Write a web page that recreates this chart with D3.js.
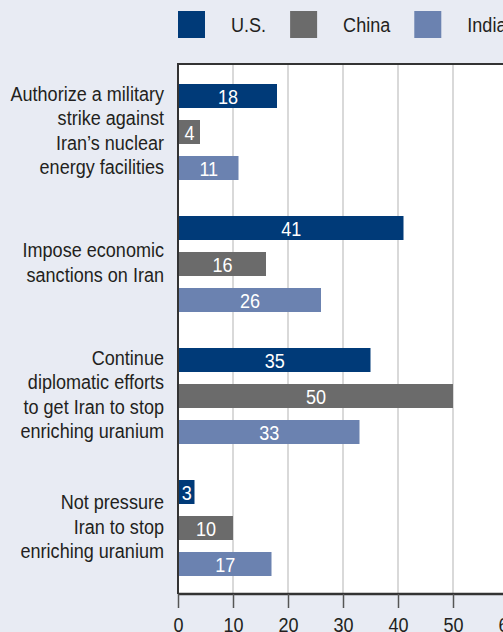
<!DOCTYPE html>
<html>
<head>
<meta charset="utf-8">
<script src="https://cdn.jsdelivr.net/npm/d3@7"></script>
<style>
  html, body { margin: 0; padding: 0; background: #e8ebf3; }
  svg { display: block; }
  text { font-family: "Liberation Sans", Arial, Helvetica, sans-serif; fill: #231f20; }
</style>
</head>
<body>
<svg width="503" height="632"></svg>
<script>
// chart data
var series = ["U.S.", "China", "India"];
var categories = [
    ["Authorize a military", "strike against", "Iran\u2019s nuclear", "energy facilities"],
    ["Impose economic", "sanctions on Iran"],
    ["Continue", "diplomatic efforts", "to get Iran to stop", "enriching uranium"],
    ["Not pressure", "Iran to stop", "enriching uranium"]
];
var usValues = [18, 41, 35, 3];
var chinaValues = [4, 16, 50, 10];
var indiaValues = [11, 26, 33, 17];
var xTicks = [0, 10, 20, 30, 40, 50, 60];

var colors = { "U.S.": "#003a78", "China": "#6b6b6b", "India": "#6b82b0" };

// no condensed font installed, so squeeze regular text horizontally
var squeeze = 0.86;
var fontSize = "21px";

var svg = d3.select("svg"),
    width = +svg.attr("width"),
    height = +svg.attr("height");

var plot = { left: 178, top: 64, bottom: 594 };

var x = d3.scaleLinear().domain([0, 60]).range([plot.left, plot.left + 330]);

var y = d3.scaleBand()
    .domain(d3.range(categories.length))
    .range([plot.top, plot.top + 528]);

var yInner = d3.scaleBand()
    .domain(series)
    .range([20, 116])
    .paddingInner(1 / 3);

var rows = categories.map(function(c, i) {
    return { i: i, lines: c, values: [usValues[i], chinaValues[i], indiaValues[i]] };
});

// white plot area
svg.append("rect")
    .attr("x", plot.left)
    .attr("y", plot.top)
    .attr("width", width - plot.left)
    .attr("height", plot.bottom - plot.top)
    .attr("fill", "#ffffff");

// gridlines
svg.append("g")
    .selectAll("line")
    .data(xTicks.slice(1))
    .enter().append("line")
        .attr("x1", function(d) { return x(d); })
        .attr("x2", function(d) { return x(d); })
        .attr("y1", plot.top)
        .attr("y2", plot.bottom)
        .attr("stroke", "#cdcdcd")
        .attr("stroke-width", 1.5);

// bars
var group = svg.append("g")
    .selectAll("g")
    .data(rows)
    .enter().append("g")
        .attr("transform", function(d) { return "translate(0," + y(d.i) + ")"; });

var bar = group.selectAll("g")
    .data(function(d) { return series.map(function(s, k) { return { s: s, v: d.values[k] }; }); })
    .enter().append("g");

bar.append("rect")
    .attr("x", x(0))
    .attr("y", function(d) { return yInner(d.s); })
    .attr("width", function(d) { return x(d.v) - x(0); })
    .attr("height", yInner.bandwidth())
    .attr("fill", function(d) { return colors[d.s]; });

bar.append("text")
    .attr("transform", function(d) {
        var cx = (x(0) + x(d.v)) / 2 + 0.5;
        var cy = yInner(d.s) + yInner.bandwidth() / 2;
        return "translate(" + cx + "," + cy + ") scale(" + squeeze + ",1)";
    })
    .attr("dy", "0.36em")
    .attr("text-anchor", "middle")
    .style("font-size", fontSize)
    .style("fill", "#ffffff")
    .text(function(d) { return d.v; });

// category labels (multi-line, right aligned)
var lineHeight = 24.5;
group.append("text")
    .attr("text-anchor", "end")
    .attr("transform", "translate(164,0) scale(" + squeeze + ",1)")
    .style("font-size", fontSize)
    .each(function(d) {
        var t = d3.select(this);
        var n = d.lines.length;
        d.lines.forEach(function(line, k) {
            t.append("tspan")
                .attr("x", 0)
                .attr("y", y.bandwidth() / 2 + (k - (n - 1) / 2) * lineHeight)
                .attr("dy", "0.36em")
                .text(line);
        });
    });

// frame lines: top and left
svg.append("line")
    .attr("x1", plot.left).attr("x2", width)
    .attr("y1", plot.top).attr("y2", plot.top)
    .attr("stroke", "#333333").attr("stroke-width", 2);
svg.append("line")
    .attr("x1", plot.left).attr("x2", plot.left)
    .attr("y1", plot.top - 1).attr("y2", plot.bottom)
    .attr("stroke", "#333333").attr("stroke-width", 2);

// x axis
var xAxis = d3.axisBottom(x)
    .tickValues(xTicks)
    .tickSize(14)
    .tickPadding(9)
    .tickFormat(d3.format("d"));

var axisG = svg.append("g")
    .attr("transform", "translate(0," + plot.bottom + ")")
    .call(xAxis);
axisG.select(".domain")
    .attr("d", "M" + plot.left + ",0H" + width)
    .attr("stroke", "#333333")
    .attr("stroke-width", 2.5);
axisG.selectAll(".tick line").attr("stroke", "#555555").attr("stroke-width", 1.5);
axisG.selectAll(".tick text")
    .attr("y", 38)
    .attr("dy", null)
    .attr("transform", "scale(" + squeeze + ",1)")
    .style("font-size", fontSize)
    .style("font-family", "\"Liberation Sans\", Arial, Helvetica, sans-serif")
    .attr("fill", "#231f20");

// legend
var legend = svg.append("g").attr("class", "legend");
var lx = 178;
series.forEach(function(s) {
    legend.append("rect")
        .attr("x", lx).attr("y", 11)
        .attr("width", 27).attr("height", 27)
        .attr("fill", colors[s]);
    var t = legend.append("text")
        .attr("transform", "translate(" + (lx + 53) + ",32) scale(" + squeeze + ",1)")
        .style("font-size", fontSize)
        .text(s);
    lx = lx + 53 + t.node().getComputedTextLength() * squeeze + 24;
});
</script>
</body>
</html>
